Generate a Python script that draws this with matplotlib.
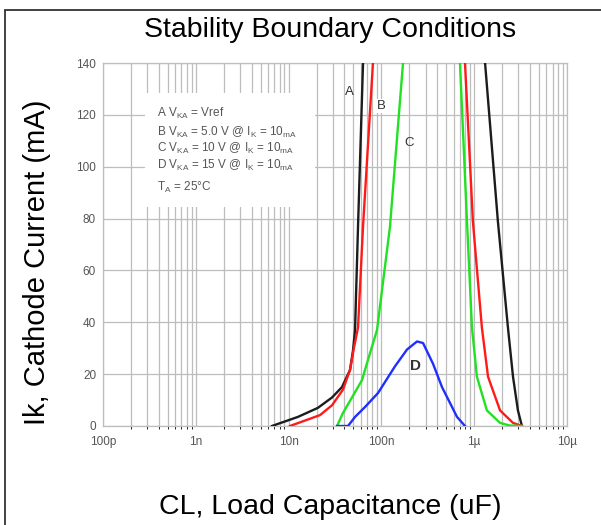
import numpy as np
import matplotlib
matplotlib.use("Agg")
import matplotlib.pyplot as plt
from matplotlib.patches import Rectangle

plt.rcParams['font.family'] = ['Liberation Sans', 'DejaVu Sans']
plt.rcParams['mathtext.fontset'] = 'custom'
plt.rcParams['mathtext.rm'] = 'Liberation Sans'
plt.rcParams['mathtext.it'] = 'Liberation Sans'

# load capacitance in uF, cathode current in mA
# each curve has a left (rising) and right (falling) branch
a_left_c = [0.00662, 0.0126, 0.0207, 0.0294, 0.0376, 0.0459, 0.0494, 0.052, 0.056, 0.0634]
a_left_i = [0, 3.5, 7, 11, 15, 21.6, 29, 37, 77, 140]
a_right_c = [1.31, 1.80, 2.31, 2.62, 2.96, 3.27]
a_right_i = [140, 79, 38, 19, 6, 0]

b_left_c = [0.01035, 0.0218, 0.0294, 0.0385, 0.0459, 0.0505, 0.056, 0.0634, 0.0811]
b_left_i = [0, 4.2, 8, 14, 21.6, 30, 38, 77, 140]
b_right_c = [0.796, 0.968, 1.21, 1.41, 1.90, 2.62, 3.27]
b_right_i = [140, 79, 38, 19, 6, 1.2, 0]

c_left_c = [0.0333, 0.0385, 0.0482, 0.0618, 0.0717, 0.0897, 0.1238, 0.171]
c_left_i = [0, 5, 11, 17.7, 25.5, 37, 77, 140]
c_right_c = [0.703, 0.836, 0.946, 1.07, 1.37, 1.90, 2.4, 3.27]
c_right_i = [140, 79, 38, 19, 6, 1.2, 0.2, 0]

d_c = [0.0333, 0.0437, 0.052, 0.0665, 0.0919, 0.140, 0.189, 0.242, 0.281, 0.36, 0.45, 0.653, 0.796]
d_i = [0, 0, 3.5, 7.3, 12.7, 23, 29.5, 32.6, 32, 24, 15, 3.5, 0]

x_ticks = [1e-4, 1e-3, 1e-2, 1e-1, 1, 10]
x_tick_labels = ['100p', '1n', '10n', '100n', '1µ', '10µ']
y_ticks = [0, 20, 40, 60, 80, 100, 120, 140]

legend_lines = [
    r'A V$_{\rm KA}$ = Vref',
    r'B V$_{\rm KA}$ = 5.0 V @ I$_{\rm K}$ = 10$_{\rm mA}$',
    r'C V$_{\rm KA}$ = 10 V @ I$_{\rm K}$ = 10$_{\rm mA}$',
    r'D V$_{\rm KA}$ = 15 V @ I$_{\rm K}$ = 10$_{\rm mA}$',
    r'T$_{\rm A}$ = 25°C',
]

fig = plt.figure(figsize=(6.01, 5.25), dpi=100)
ax = fig.add_axes([0.1714, 0.1886, 0.772, 0.6914])

black, red, green, blue = '#1c1c1c', '#ff1a1a', '#22e022', '#1f2fff'
lw = 1.7
ax.plot(a_left_c, a_left_i, color=black, lw=lw, zorder=3)
ax.plot(a_right_c, a_right_i, color=black, lw=lw, zorder=3)
ax.plot(b_left_c, b_left_i, color=red, lw=lw, zorder=3)
ax.plot(b_right_c, b_right_i, color=red, lw=lw, zorder=3)
ax.plot(c_left_c, c_left_i, color=green, lw=lw, zorder=3)
ax.plot(c_right_c, c_right_i, color=green, lw=lw, zorder=3)
ax.plot(d_c, d_i, color=blue, lw=lw, zorder=3)

ax.set_xscale('log')
ax.set_xlim(1e-4, 10)
ax.set_ylim(0, 140)
ax.set_xticks(x_ticks)
ax.set_xticklabels(x_tick_labels)
ax.set_yticks(y_ticks)
ax.tick_params(axis='both', length=0, labelsize=8.5, labelcolor='#555555')
ax.tick_params(axis='x', pad=7)
ax.tick_params(axis='y', pad=5)
ax.set_axisbelow(True)
ax.grid(True, which='major', color='#bdbdbd', lw=0.9)
ax.grid(True, which='minor', axis='x', color='#bdbdbd', lw=0.9)
for s in ax.spines.values():
    s.set_color('#bdbdbd')
    s.set_linewidth(0.9)

# white box behind the condition notes
ax.add_patch(Rectangle((0.0905, 0.603), 0.367, 0.314, transform=ax.transAxes,
                       facecolor='white', edgecolor='none', zorder=1))
for _y, _txt in zip([0.862, 0.810, 0.764, 0.717, 0.656], legend_lines):
    ax.text(0.116, _y, _txt, transform=ax.transAxes, fontsize=8.5,
            color='#555555', va='center', zorder=4)

lab_kw = dict(fontsize=9.5, color='#333333', ha='center', va='center', zorder=4)
ax.text(0.0448, 128.8, 'A', **lab_kw)
ax.text(0.0991, 123.4, 'B', bbox=dict(facecolor='white', edgecolor='none', pad=1), **lab_kw)
ax.text(0.198, 109, 'C', **lab_kw)
ax.text(0.236, 23.1, 'D', fontsize=11, color='#333333', ha='center', va='center',
        fontweight='bold', zorder=4)

fig.text(0.549, 0.943, 'Stability Boundary Conditions', fontsize=20.5,
         ha='center', va='center')
fig.text(0.549, 0.034, 'CL, Load Capacitance (uF)', fontsize=20.5,
         ha='center', va='center')
fig.text(0.062, 0.50, 'Ik, Cathode Current (mA)', fontsize=21, rotation=90,
         ha='center', va='center')

# outer frame
fig.add_artist(Rectangle((5 / 601, -0.05), 1.0, 1.05 - 10 / 525,
                         transform=fig.transFigure, fill=False,
                         edgecolor='#333333', lw=1.3))

fig.savefig('out.png', dpi=100)
